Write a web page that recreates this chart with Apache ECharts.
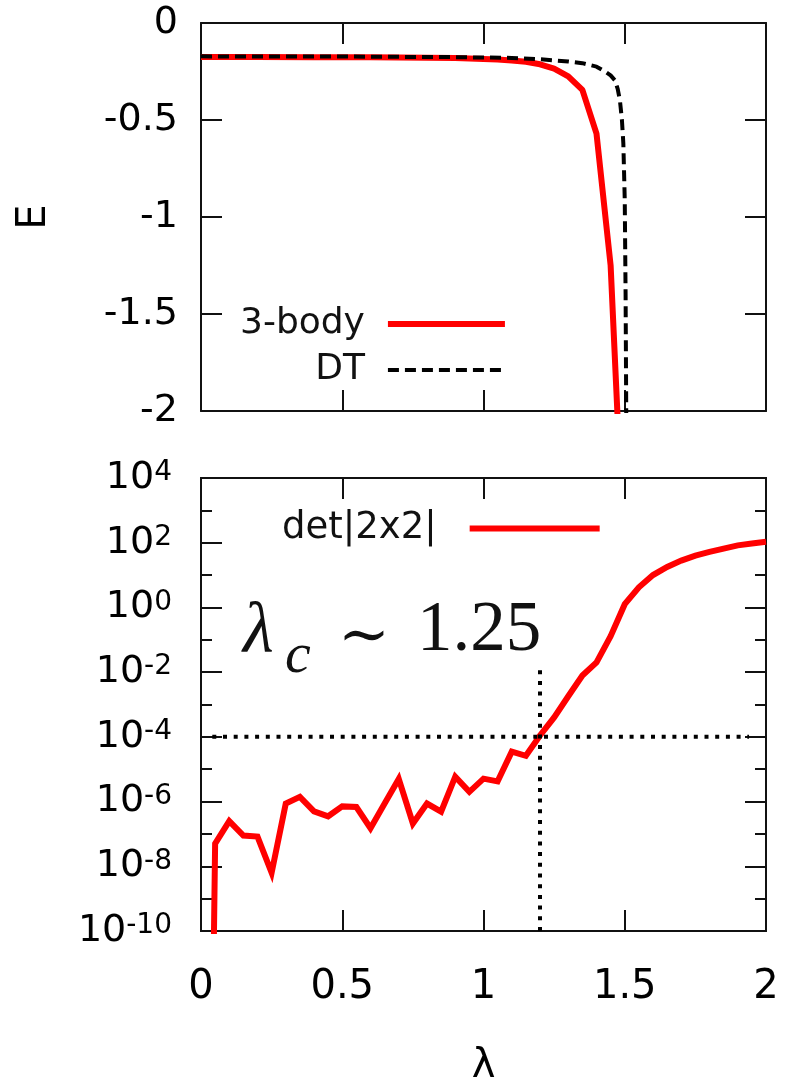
<!DOCTYPE html>
<html><head><meta charset="utf-8">
<script src="https://cdn.jsdelivr.net/npm/echarts@6/dist/echarts.min.js"></script>
<style>html,body{margin:0;padding:0;background:#fff}#c{width:797px;height:1088px}</style>
</head><body><div id="c"></div>
<script>
// ---- top panel: energy E vs lambda ----
const lambdaThreeBody = [0, 0.2, 0.4, 0.6, 0.8, 0.9, 1.0, 1.05, 1.1, 1.15, 1.2, 1.25, 1.3, 1.35, 1.4, 1.45, 1.48];
const energyThreeBody = [-0.175, -0.175, -0.176, -0.177, -0.179, -0.181, -0.185, -0.188, -0.193, -0.200, -0.213, -0.235, -0.275, -0.345, -0.57, -1.25, -2.2];
const lambdaDT = [0, 0.5, 0.9, 1.1, 1.2, 1.3, 1.35, 1.4, 1.43, 1.45, 1.465, 1.475, 1.483, 1.49, 1.495, 1.5, 1.503, 1.506];
const energyDT = [-0.172, -0.173, -0.176, -0.18, -0.187, -0.198, -0.207, -0.225, -0.25, -0.27, -0.295, -0.34, -0.40, -0.5, -0.62, -0.91, -1.4, -2.2];
// ---- bottom panel: det|2x2| vs lambda (log scale) ----
const lambdaDet = [0.04, 0.05, 0.10, 0.15, 0.20, 0.25, 0.30, 0.35, 0.40, 0.45, 0.50, 0.55, 0.60, 0.65, 0.70, 0.75, 0.80, 0.85, 0.90, 0.95, 1.00, 1.05, 1.10, 1.15, 1.20, 1.25, 1.30, 1.35, 1.40, 1.45, 1.50, 1.55, 1.60, 1.65, 1.70, 1.75, 1.80, 1.85, 1.90, 1.95, 2.00];
const detValues = [1e-14, 5.0e-8, 2.5e-7, 8.9e-8, 8.3e-8, 6.3e-9, 8.7e-7, 1.4e-6, 5.0e-7, 3.5e-7, 7.1e-7, 6.8e-7, 1.5e-7, 8.7e-7, 5.0e-6, 2.1e-7, 8.7e-7, 4.9e-7, 5.9e-6, 2.0e-6, 5.1e-6, 4.2e-6, 3.5e-5, 2.6e-5, 1.1e-4, 4.0e-4, 1.8e-3, 7.9e-3, 2.0e-2, 1.3e-1, 1.26, 4.2, 10, 17.8, 28, 40, 52, 66, 83, 95, 107];
// critical-point guide lines
const critLambda = 1.2;
const critDet = 1e-4;
const critLineLambda = [0.04, 1.94];
const critLineDetTop = 1.4e-2;
// axis ranges / ticks
const lambdaRange = [0, 2];
const lambdaStep = 0.5;
const energyRange = [-2, 0];
const energyStep = 0.5;
const detRange = [1e-10, 1e4];
const seriesNames = ['3-body', 'DT', 'det|2x2|'];
const annotationParts = ['λ', 'c', '∼', '1.25'];

const zip = (a, b) => a.map((x, i) => [x, b[i]]);
const BLACK = '#111';
const FONT = 'DejaVu Sans';
const HIDDEN = { color: 'rgba(0,0,0,0)', opacity: 0, borderWidth: 0 };

const frameLine = { show: true, onZero: false, lineStyle: { color: BLACK, width: 2 } };
const tick = (len) => ({ show: true, inside: true, length: len, lineStyle: { color: BLACK, width: 2 } });

function xAx(grid, pos, labels) {
  return {
    type: 'value', gridIndex: grid, position: pos, min: lambdaRange[0], max: lambdaRange[1], interval: lambdaStep,
    axisLine: frameLine, axisTick: tick(21), splitLine: { show: false },
    axisLabel: { show: labels, fontSize: 40, fontFamily: FONT, color: '#000', margin: 37 },
    name: labels ? 'λ' : '', nameLocation: 'middle', nameGap: 116,
    nameTextStyle: { fontSize: 40, fontFamily: FONT, color: '#000' }
  };
}

const expLabel = (v) => {
  const e = Math.round(Math.log10(v));
  return '{b|10}{e|' + e + '}';
};
const logRich = {
  b: { fontSize: 38, fontFamily: FONT, color: '#000', lineHeight: 38, padding: [15, 0, 0, 0], verticalAlign: 'bottom' },
  e: { fontSize: 28, fontFamily: FONT, color: '#000', lineHeight: 28, verticalAlign: 'top' }
};

function logAx(pos, labels, interval, len) {
  return {
    type: 'log', logBase: 10, gridIndex: 1, position: pos, min: detRange[0], max: detRange[1], interval: interval,
    axisLine: frameLine, axisTick: tick(len), splitLine: { show: false }, minorTick: { show: false },
    axisLabel: { show: labels, formatter: expLabel, rich: logRich, margin: 29 }
  };
}

const option = {
  backgroundColor: '#fff',
  animation: false,
  grid: [
    { left: 201, right: 31, top: 23, height: 388 },
    { left: 201, right: 31, top: 478, height: 455 }
  ],
  xAxis: [ xAx(0, 'bottom', false), xAx(0, 'top', false), xAx(1, 'bottom', true), xAx(1, 'top', false) ],
  yAxis: [
    {
      type: 'value', gridIndex: 0, position: 'left', min: energyRange[0], max: energyRange[1], interval: energyStep,
      axisLine: frameLine, axisTick: tick(21), splitLine: { show: false },
      axisLabel: { fontSize: 38, fontFamily: FONT, color: '#000', margin: 23 },
      name: 'E', nameLocation: 'middle', nameGap: 146,
      nameTextStyle: { fontSize: 40, fontFamily: FONT, color: '#000' }
    },
    {
      type: 'value', gridIndex: 0, position: 'right', min: energyRange[0], max: energyRange[1], interval: energyStep,
      axisLine: frameLine, axisTick: tick(21), splitLine: { show: false }, axisLabel: { show: false }
    },
    logAx('left', true, 2, 21),
    logAx('right', false, 2, 21),
    logAx('left', false, 1, 11),
    logAx('right', false, 1, 11)
  ],
  legend: [
    {
      data: [
        { name: seriesNames[0], lineStyle: { width: 6 }, itemStyle: HIDDEN },
        { name: seriesNames[1], lineStyle: { width: 4 }, itemStyle: HIDDEN }
      ],
      orient: 'vertical', align: 'right', left: 235, top: 301, itemWidth: 117, itemHeight: 20, itemGap: 10,
      selectedMode: false, itemStyle: HIDDEN,
      textStyle: { fontSize: 36, fontFamily: FONT, color: BLACK, width: 130, align: 'right', padding: [0, 18, 0, 0] }
    },
    {
      data: [ { name: seriesNames[2], lineStyle: { width: 6 }, itemStyle: HIDDEN } ],
      orient: 'vertical', align: 'right', left: 277, top: 505, itemWidth: 130, itemHeight: 20,
      selectedMode: false, itemStyle: HIDDEN,
      textStyle: { fontSize: 37, fontFamily: FONT, color: BLACK, width: 172, align: 'right', padding: [0, 28, 0, 0] }
    }
  ],
  graphic: [
    { type: 'text', left: 243, top: 598, style: { text: annotationParts[0], font: 'italic 71px "Liberation Serif"', fill: '#111' } },
    { type: 'text', left: 285, top: 628, style: { text: annotationParts[1], font: 'italic 58px "Liberation Serif"', fill: '#111' } },
    { type: 'text', left: 338, top: 608, style: { text: annotationParts[2], font: '62px "DejaVu Serif"', fill: '#111' } },
    { type: 'text', left: 417, top: 596, style: { text: annotationParts[3], font: '71px "Liberation Serif"', fill: '#111' } }
  ],
  series: [
    {
      name: seriesNames[0], type: 'line', xAxisIndex: 0, yAxisIndex: 0, data: zip(lambdaThreeBody, energyThreeBody),
      showSymbol: false, symbol: 'none', clip: true, z: 3,
      lineStyle: { color: '#ff0000', width: 6 }, itemStyle: { color: '#ff0000' }
    },
    {
      name: seriesNames[1], type: 'line', xAxisIndex: 0, yAxisIndex: 0, data: zip(lambdaDT, energyDT),
      showSymbol: false, symbol: 'none', clip: true, z: 4,
      lineStyle: { color: '#000', width: 4, type: [11, 6] }, itemStyle: { color: '#000' }
    },
    {
      name: seriesNames[2], type: 'line', xAxisIndex: 2, yAxisIndex: 2, data: zip(lambdaDet, detValues),
      showSymbol: false, symbol: 'none', clip: true, z: 3,
      lineStyle: { color: '#ff0000', width: 6, join: 'miter' }, itemStyle: { color: '#ff0000' }
    },
    {
      name: 'critH', type: 'line', xAxisIndex: 2, yAxisIndex: 2,
      data: [[critLineLambda[0], critDet], [critLineLambda[1], critDet]],
      showSymbol: false, symbol: 'none', z: 5, silent: true,
      lineStyle: { color: '#000', width: 4, type: [4, 6.7], cap: 'butt' }
    },
    {
      name: 'critV', type: 'line', xAxisIndex: 2, yAxisIndex: 2,
      data: [[critLambda, detRange[0]], [critLambda, critLineDetTop]],
      showSymbol: false, symbol: 'none', z: 5, silent: true,
      lineStyle: { color: '#000', width: 4, type: [4, 6.7], cap: 'butt' }
    }
  ]
};

const chart = echarts.init(document.getElementById('c'), null, { renderer: 'canvas' });
chart.setOption(option);
</script>
</body></html>
